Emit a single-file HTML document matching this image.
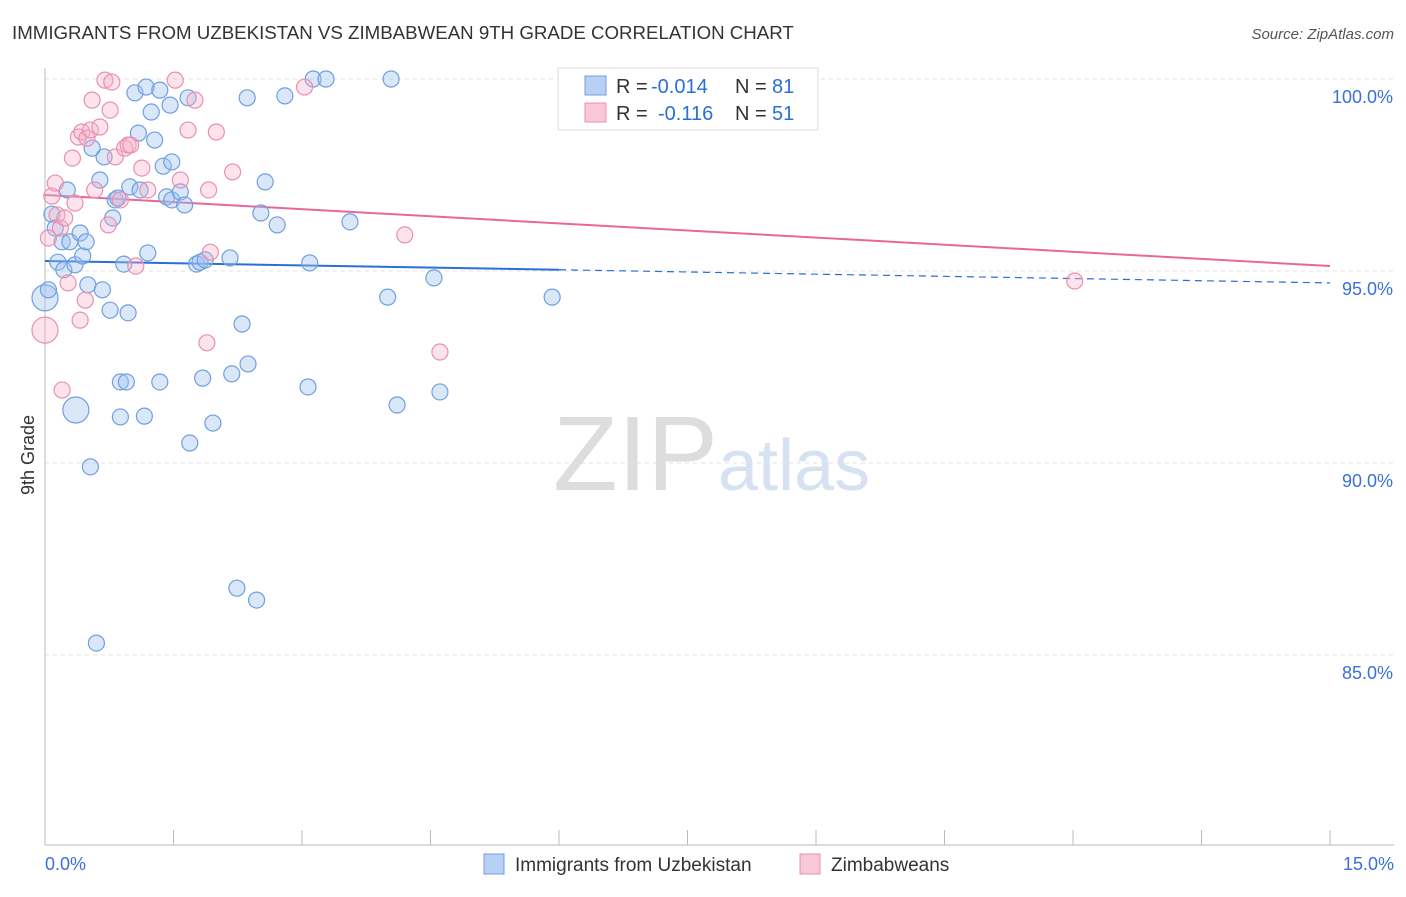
<!DOCTYPE html>
<html><head><meta charset="utf-8"><style>
body{margin:0;background:#fff;font-family:"Liberation Sans",sans-serif;}
svg text{font-family:"Liberation Sans",sans-serif;}
</style></head><body>
<svg id="chart" width="1406" height="892" viewBox="0 0 1406 892" xmlns="http://www.w3.org/2000/svg">
<text x="12" y="39" font-size="18.7" fill="#333">IMMIGRANTS FROM UZBEKISTAN VS ZIMBABWEAN 9TH GRADE CORRELATION CHART</text>
<text x="1394" y="39" font-size="15" fill="#555" text-anchor="end" font-style="italic">Source: ZipAtlas.com</text>
<text x="553" y="490" font-size="106" fill="#ddd" font-family="Liberation Serif">ZIP</text>
<text x="718" y="490" font-size="72" fill="#d6e2f2">atlas</text>
<text transform="translate(34,455) rotate(-90)" font-size="18" fill="#333" text-anchor="middle">9th Grade</text>
<g id="grid"></g><g id="axes"></g><g id="trend"></g><g id="points"></g>
<g>
<rect x="558" y="68" width="260" height="62" fill="#fff" stroke="#ddd"/>
<rect x="585" y="76" width="21" height="19" fill="#b8d0f4" stroke="#6f9fe0"/>
<text x="616" y="93" font-size="20" fill="#333">R =</text>
<text x="651" y="93" font-size="20" fill="#2a6fd6">-0.014</text>
<text x="735" y="93" font-size="20" fill="#333">N =</text>
<text x="772" y="93" font-size="20" fill="#2a6fd6">81</text>
<rect x="585" y="103" width="21" height="19" fill="#f9c8d8" stroke="#e890b0"/>
<text x="616" y="120" font-size="20" fill="#333">R =</text>
<text x="658" y="120" font-size="20" fill="#2a6fd6">-0.116</text>
<text x="735" y="120" font-size="20" fill="#333">N =</text>
<text x="772" y="120" font-size="20" fill="#2a6fd6">51</text>
</g>
<g>
<rect x="484" y="854" width="20" height="20" fill="#b8d0f4" stroke="#6f9fe0"/>
<text x="515" y="871" font-size="19" fill="#333">Immigrants from Uzbekistan</text>
<rect x="800" y="854" width="20" height="20" fill="#f9c8d8" stroke="#e890b0"/>
<text x="831" y="871" font-size="19" fill="#333">Zimbabweans</text>
</g>
</svg>
<script>
const yTicks=[100,95,90,85];
const yTickLabels=["100.0%","95.0%","90.0%","85.0%"];
const xTickLabels=["0.0%","15.0%"];
const blueX=[0,0.04,0.08,0.12,0.15,0.20,0.22,0.26,0.29,0.35,0.36,0.41,0.44,0.48,0.50,0.53,0.55,0.60,0.64,0.67,0.69,0.76,0.79,0.82,0.85,0.88,0.88,0.92,0.95,0.97,0.99,1.05,1.09,1.11,1.16,1.18,1.20,1.24,1.28,1.34,1.34,1.38,1.42,1.46,1.48,1.48,1.58,1.63,1.67,1.69,1.77,1.81,1.84,1.87,1.96,2.16,2.18,2.24,2.30,2.36,2.37,2.47,2.52,2.57,2.71,2.80,3.07,3.09,3.13,3.28,3.56,4.00,4.04,4.11,4.54,4.61,5.92];
const blueY=[94.30,94.51,96.48,96.12,95.23,95.76,95.03,97.11,95.76,95.16,91.38,95.99,95.39,95.76,94.64,89.90,98.20,85.31,97.37,94.51,97.97,93.98,96.38,96.85,96.90,92.11,91.20,95.18,92.11,93.91,97.19,99.64,98.59,97.11,91.22,99.79,95.47,99.14,98.41,99.71,92.11,97.73,96.93,99.32,97.84,96.85,97.06,96.72,99.51,90.52,95.18,95.23,92.21,95.29,91.04,95.34,92.32,86.74,93.62,99.51,92.58,86.43,96.51,97.32,96.20,99.56,91.98,95.21,100,100,96.28,94.32,100,91.51,94.82,91.85,94.32];
const blueBig=[0,10];
const pinkX=[0,0.04,0.08,0.12,0.14,0.18,0.20,0.23,0.27,0.32,0.35,0.39,0.41,0.43,0.47,0.49,0.53,0.55,0.58,0.64,0.70,0.74,0.76,0.78,0.82,0.88,0.93,0.97,1.00,1.06,1.13,1.20,1.52,1.58,1.67,1.75,1.89,1.91,1.93,2.00,2.19,3.03,4.20,4.61,12.02];
const pinkY=[93.46,95.86,96.95,97.29,96.46,96.12,91.90,96.38,94.69,97.94,96.77,98.49,93.72,98.62,94.24,98.46,98.67,99.45,97.11,98.75,99.97,96.20,99.19,99.92,97.97,96.85,98.20,98.28,98.28,95.13,97.68,97.11,99.97,97.37,98.67,99.45,93.13,97.11,95.49,98.62,97.58,99.79,95.94,92.89,94.74];
const pinkBig=[0];
const blueTrend=[95.26,94.69];
const pinkTrend=[96.98,95.13];
const X0=45,X1=1330,Y100=79,PX5=192;
const sx=v=>X0+v*(X1-X0)/15;
const sy=v=>Y100+(100-v)*PX5/5;
const NS="http://www.w3.org/2000/svg";
function mk(parent,tag,attrs){const e=document.createElementNS(NS,tag);for(const k in attrs)e.setAttribute(k,attrs[k]);document.getElementById(parent).appendChild(e);return e;}
yTicks.forEach((t,i)=>{
 const g=mk('grid','line',{x1:X0,x2:1394,y1:sy(t),y2:sy(t),stroke:'#e2e2e2','stroke-dasharray':'4,4'});
 
 
 const l=mk('axes','text',{x:1393,y:sy(t)+24,'font-size':18,fill:'#3a70d8','text-anchor':'end'});
 l.textContent=yTickLabels[i];
 
 
});
const ax=mk('axes','line',{x1:X0,x2:1394,y1:845,y2:845,stroke:'#bbb'});


const ay=mk('axes','line',{x1:X0,x2:X0,y1:68,y2:845,stroke:'#bbb'});


for(let i=0;i<=10;i++){const t=mk('axes','line',{x1:sx(i*1.5),x2:sx(i*1.5),y1:830,y2:845,stroke:'#bbb'});
 
 }
[[0,'start',45],[15,'end',1394]].forEach((d,i)=>{const l=mk('axes','text',{x:d[2],y:870,'font-size':18,fill:'#3a70d8','text-anchor':d[1]});l.textContent=xTickLabels[i];
 
 });
function pts(xs,ys,big,fill,stroke,name){xs.forEach((x,i)=>{const r=big.includes(i)?13:8;
 const c=mk('points','circle',{cx:sx(x),cy:sy(ys[i]),r:r,fill:fill,stroke:stroke,'stroke-width':1.2});
 
 });}
pts(blueX,blueY,blueBig,'rgba(160,195,240,0.4)','#6f9fe0','uzbekistan-point');
pts(pinkX,pinkY,pinkBig,'rgba(245,175,200,0.35)','#e890b0','zimbabwean-point');
const bm=blueTrend[0]+(blueTrend[1]-blueTrend[0])*6/15;
const b1=mk('trend','line',{x1:sx(0),y1:sy(blueTrend[0]),x2:sx(6),y2:sy(bm),stroke:'#2a6fd6','stroke-width':2});


const b2=mk('trend','line',{x1:sx(6),y1:sy(bm),x2:sx(15),y2:sy(blueTrend[1]),stroke:'#2a6fd6','stroke-width':1.2,'stroke-dasharray':'7,5'});


const p1=mk('trend','line',{x1:sx(0),y1:sy(pinkTrend[0]),x2:sx(15),y2:sy(pinkTrend[1]),stroke:'#e8679a','stroke-width':2});


</script>
</body></html>
